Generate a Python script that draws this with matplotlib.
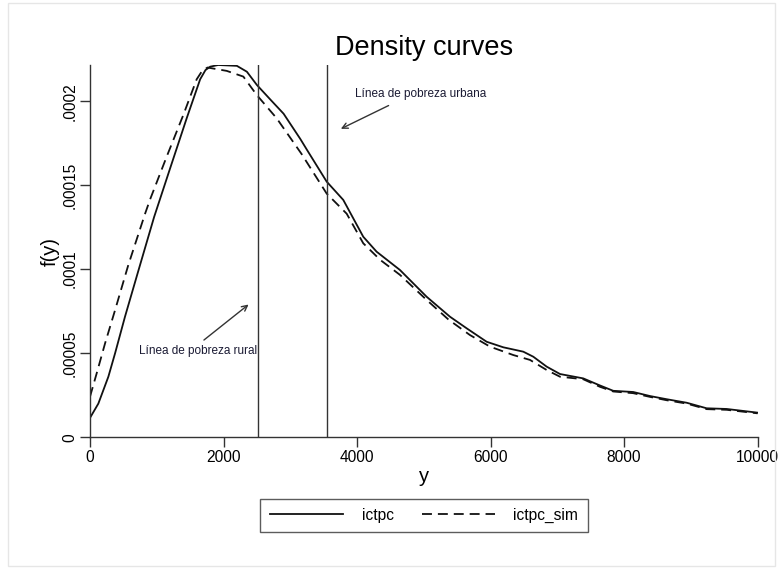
import matplotlib
matplotlib.use("Agg")
import matplotlib.pyplot as plt
from matplotlib.patches import Rectangle

# ---- data ----
x_ictpc = [0, 125, 275, 376, 524, 724, 960, 1200, 1450, 1650, 1730, 1800, 1920, 2200, 2350, 2500,
           2700, 2900, 3150, 3250, 3545, 3794, 4093, 4293, 4643, 5042, 5392, 5642, 5941, 6191, 6490,
           6640, 6840, 7040, 7388, 7638, 7838, 8137, 8387, 8638, 8938, 9237, 9537, 10000]
y_ictpc = [0.115, 0.20, 0.36, 0.50, 0.717, 0.99, 1.31, 1.60, 1.90, 2.13, 2.185, 2.205, 2.215, 2.21, 2.175, 2.096,
           2.01, 1.925, 1.775, 1.71, 1.521, 1.412, 1.193, 1.104, 0.995, 0.836, 0.717, 0.648, 0.568, 0.535, 0.509,
           0.479, 0.42, 0.376, 0.35, 0.308, 0.276, 0.269, 0.245, 0.226, 0.205, 0.172, 0.168, 0.146]

x_sim = [0, 100, 226, 376, 574, 825, 900, 1149, 1398, 1598, 1680, 1760, 2048, 2297, 2497, 2796,
         3170, 3545, 3845, 4093, 4348, 4643, 5042, 5370, 5691, 5991, 6340, 6590, 6840, 7040,
         7388, 7638, 7838, 8137, 8387, 8638, 8938, 9237, 9537, 10000]
y_sim = [0.241, 0.38, 0.559, 0.757, 1.025, 1.33, 1.415, 1.67, 1.918, 2.13, 2.18, 2.20, 2.18, 2.146, 2.037, 1.898,
         1.685, 1.45, 1.33, 1.154, 1.055, 0.966, 0.817, 0.70, 0.608, 0.539, 0.489, 0.46, 0.40, 0.36,
         0.345, 0.30, 0.272, 0.262, 0.24, 0.22, 0.20, 0.167, 0.163, 0.142]
scale = 1e-4

poverty_lines = [2515, 3555]
x_ticks = [0, 2000, 4000, 6000, 8000, 10000]
y_ticks = [0, 0.00005, 0.0001, 0.00015, 0.0002]
y_ticklabels = ["0", ".00005", ".0001", ".00015", ".0002"]

W, H = 779, 569
fig = plt.figure(figsize=(W / 100, H / 100), dpi=100)
fig.patch.set_facecolor("white")
fig.patches.append(Rectangle((8 / W, 3 / H), (775 - 8) / W, (566 - 3) / H,
                             transform=fig.transFigure, fill=False,
                             edgecolor="#e6e6e6", linewidth=1.0))

ax = fig.add_axes([90 / W, 1 - 437.2 / H, (757.6 - 90) / W, (437.2 - 65) / H])

sans = ["Liberation Sans", "DejaVu Sans"]

ax.plot(x_ictpc, [v * scale for v in y_ictpc], color="#111111", lw=1.3, label="ictpc")
ax.plot(x_sim, [v * scale for v in y_sim], color="#111111", lw=1.3,
        dashes=(5.5, 3.3), label="ictpc_sim")
for xv in poverty_lines:
    ax.axvline(xv, color="#333333", lw=1.0)

ax.set_xlim(0, 10000)
ax.set_ylim(0, 0.0002215)
ax.set_xticks(x_ticks)
ax.set_xticklabels([str(t) for t in x_ticks], family=sans, fontsize=11.2)
ax.set_yticks(y_ticks)
ax.set_yticklabels(y_ticklabels, family=sans, fontsize=11.2, rotation=90, va="center")
ax.tick_params(axis="both", length=7, width=1.0, color="#333333", pad=2)

for s in ["top", "right"]:
    ax.spines[s].set_visible(False)
for s in ["left", "bottom"]:
    ax.spines[s].set_color("#333333")
    ax.spines[s].set_linewidth(1.0)

ax.set_title("Density curves", family=sans, fontsize=19.5, pad=7)
ax.set_xlabel("y", family=sans, fontsize=14.5, labelpad=2)
ax.set_ylabel("f(y)", family=sans, fontsize=14.5, labelpad=2)

# annotations
ax.annotate("", xy=(2408, 8.0e-5), xytext=(1674, 5.68e-5),
            arrowprops=dict(arrowstyle="->", color="#333333", lw=1.0))
ax.text(2503, 5.15e-5, "Línea de pobreza rural", family=sans, fontsize=8.5,
        color="#1a1a33", ha="right", va="center")
ax.annotate("", xy=(3720, 1.828e-4), xytext=(4510, 1.981e-4),
            arrowprops=dict(arrowstyle="->", color="#333333", lw=1.0))
ax.text(4959, 2.043e-4, "Línea de pobreza urbana", family=sans, fontsize=8.5,
        color="#1a1a33", ha="center", va="center")

leg = fig.legend(loc="center", bbox_to_anchor=(424 / W, 1 - 515.5 / H), ncol=2,
                 prop={"family": sans, "size": 11.2}, frameon=True, fancybox=False,
                 edgecolor="#333333", handlelength=4.7, handletextpad=1.2,
                 columnspacing=1.8, borderpad=0.6)
leg.get_frame().set_linewidth(1.0)

fig.savefig("out.png", dpi=100, facecolor="white")
